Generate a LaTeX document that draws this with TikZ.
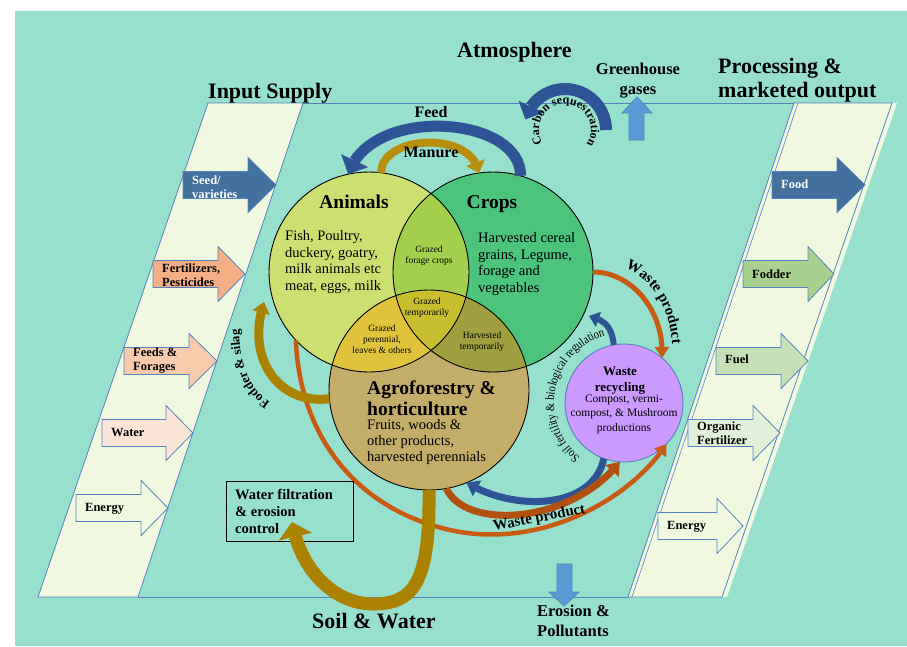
\documentclass[tikz,border=0pt]{standalone}
\usepackage{fontspec}
\setmainfont{Liberation Serif}
\newfontfamily\narrowserif[FakeStretch=0.85]{Liberation Serif}
\usetikzlibrary{arrows.meta,bending,decorations.text,calc}

\definecolor{bgteal}{RGB}{151,224,205}
\definecolor{cream}{RGB}{240,249,224}
\definecolor{edgeblue}{RGB}{84,130,190}
\definecolor{steelblue}{RGB}{65,113,156}
\definecolor{feedblue}{RGB}{47,84,150}
\definecolor{skyblue}{RGB}{91,155,213}
\definecolor{gold}{RGB}{170,130,0}
\definecolor{manuregold}{RGB}{184,142,12}
\definecolor{rust}{RGB}{200,90,17}
\definecolor{brownrust}{RGB}{178,80,15}
\definecolor{animalfill}{RGB}{203,224,112}
\definecolor{cropfill}{RGB}{76,196,124}
\definecolor{agrofill}{RGB}{196,173,104}
\definecolor{acfill}{RGB}{163,208,76}
\definecolor{aafill}{RGB}{226,196,60}
\definecolor{cafill}{RGB}{160,160,64}
\definecolor{allfill}{RGB}{200,190,45}
\definecolor{wastefill}{RGB}{204,153,255}
\definecolor{salmon}{RGB}{244,176,132}
\definecolor{peach}{RGB}{248,203,173}
\definecolor{blush}{RGB}{251,229,214}
\definecolor{sage}{RGB}{169,209,142}
\definecolor{mint}{RGB}{197,224,180}
\definecolor{pale}{RGB}{226,240,217}

% block arrow: style, left x, head x, tip x, centre y (y measured downwards)
\newcommand\blockarrow[5]{%
  \filldraw[#1] (#2,{-#5+13.5}) -- (#3,{-#5+13.5}) -- (#3,{-#5+27.5}) -- (#4,-#5)
    -- (#3,{-#5-27.5}) -- (#3,{-#5-13.5}) -- (#2,{-#5-13.5}) -- cycle;}

\begin{document}
\begin{tikzpicture}[x=1pt,y=1pt,
  title/.style={font=\bfseries\fontsize{22}{24}\selectfont, inner sep=0pt},
  sub/.style={font=\bfseries\fontsize{16.5}{20}\selectfont, inner sep=0pt},
  lbl/.style={font=\bfseries\fontsize{12.5}{14}\selectfont, inner sep=0pt, align=left},
  body/.style={font=\fontsize{14.5}{16.4}\selectfont, inner sep=0pt, align=left},
  small/.style={font=\fontsize{9.5}{11}\selectfont, inner sep=0pt, align=center},
  blockarr/.style={draw=edgeblue, line width=0.8pt},
  setcircle/.style={circle, minimum size=200pt, inner sep=0pt, outer sep=0pt},
  flowtip/.style 2 args={-{Triangle[width=#1,length=#2,line width=0pt]}},
]

\useasboundingbox (0,0) rectangle (907,-646);
\fill[white] (0,0) rectangle (907,-646);
\fill[bgteal] (15,-11) rectangle (907,-646);

% ---- input and output bands ----
\fill[cream] (633,-597) -- (727,-597) -- (897,-103) -- (799,-103) -- cycle;
\filldraw[fill=cream, draw=edgeblue, line width=0.8pt] (628,-597) -- (722,-597) -- (892,-103) -- (794,-103) -- cycle;
\draw[edgeblue, line width=0.6pt] (632,-597) -- (798,-103);
\filldraw[fill=cream, draw=edgeblue, line width=0.8pt] (38,-597) -- (138,-597) -- (303,-103) -- (208,-103) -- cycle;
\draw[edgeblue, line width=0.8pt] (303,-103) -- (794,-103);
\draw[edgeblue, line width=0.8pt] (138,-597) -- (628,-597);

% ---- the three system circles ----
\node[setcircle, fill=animalfill] (animals) at (369,-272) {};
\node[setcircle, fill=cropfill] (crops) at (493,-272) {};
\node[setcircle, fill=agrofill] (agro) at (429,-390) {};
\begin{scope}
  \clip (369,-272) circle[radius=100pt];
  \fill[acfill] (493,-272) circle[radius=100pt];
  \fill[aafill] (429,-390) circle[radius=100pt];
\end{scope}
\begin{scope}
  \clip (493,-272) circle[radius=100pt];
  \fill[cafill] (429,-390) circle[radius=100pt];
\end{scope}
\begin{scope}
  \clip (369,-272) circle[radius=100pt];
  \clip (493,-272) circle[radius=100pt];
  \fill[allfill] (429,-390) circle[radius=100pt];
\end{scope}
\draw[line width=0.9pt] (369,-272) circle[radius=100pt];
\draw[line width=0.9pt] (493,-272) circle[radius=100pt];
\draw[line width=0.9pt] (429,-390) circle[radius=100pt];

\node[circle, minimum size=118pt, inner sep=0pt, outer sep=0pt, fill=wastefill, draw=edgeblue, line width=0.9pt] (waste) at (624,-403) {};

% ---- flows between the circles ----
\draw[feedblue, line width=11pt, flowtip={30pt}{15pt}] (crops.74) .. controls (521,-115) and (370,-105) .. (animals.102);
\draw[manuregold, line width=8pt, flowtip={20pt}{11pt}] (animals.83) .. controls (381,-135) and (472,-130) .. (crops.98);

\coordinate (cseq) at (565,-130);
\draw[feedblue, line width=12pt, flowtip={28pt}{14pt}] (cseq) ++(0:41) arc[start angle=0, end angle=165, radius=41];
\path[decorate, decoration={text along path, text align=center,
  text={|\bfseries\fontsize{12}{12}\selectfont|Carbon sequestration}}]
  (cseq) ++(205:26) arc[start angle=205, end angle=-29, radius=26];

\filldraw[fill=skyblue, draw=edgeblue, line width=0.8pt] (629,-140) -- (629,-113) -- (622,-113) -- (637,-97) -- (652,-113) -- (644,-113) -- (644,-140) -- cycle;
\filldraw[fill=skyblue, draw=edgeblue, line width=0.8pt] (557,-564) -- (557,-592) -- (549,-592) -- (564,-606) -- (579,-592) -- (572,-592) -- (572,-564) -- cycle;

\draw[rust, line width=5pt, flowtip={15pt}{11pt}] (crops.east) .. controls +(40,0) and +(3,45) .. (waste.50);
\path[decorate, decoration={text along path, text align=center,
  text={|\bfseries\fontsize{15}{15}\selectfont|Waste product}}]
  (610,-265) .. controls (645,-266) and (676,-308) .. (672,-360);

\coordinate (sftip) at (589,-316);
\draw[feedblue, line width=6pt, flowtip={16pt}{10pt}] (waste.100) .. controls +(-2,20) and +(14,-4) .. (sftip);
\path[decorate, decoration={text along path, text align=center,
  text={|\narrowserif\fontsize{12.5}{12.5}\selectfont|Soil fertility {\&} biological regulation}}]
  (waste.center) ++(233:70) arc[start angle=233, end angle=104, radius=70];

\draw[feedblue, line width=7pt, flowtip={18pt}{12pt}] (waste.250) .. controls +(-10,-50) and +(50,-30) .. (agro.-68);
\draw[brownrust, line width=7pt, flowtip={18pt}{12pt}] (agro.-80) .. controls (465,-530) and (570,-525) .. (waste.266);
\draw[rust, line width=4.5pt, flowtip={15pt}{11pt}] (animals.223) .. controls (300,-440) and (360,-510) .. (450,-530)
  .. controls (540,-550) and (630,-500) .. (waste.-44);
\node[font=\bfseries\fontsize{15}{15}\selectfont, rotate=11, inner sep=0pt, anchor=base] (wastelow) at (540,-522) {Waste product};

\coordinate (fstip) at (264,-302);
\draw[gold, line width=9pt, flowtip={18pt}{11pt}] (agro.185) .. controls (280,-405) and (245,-360) .. (fstip);
\path[decorate, decoration={text along path, text align=center,
  text={|\bfseries\fontsize{13}{13}\selectfont|Fodder {\&} silag}}]
  (288,-409) .. controls (252,-402) and (235,-366) .. (240,-310);

\node[draw, line width=1.3pt, minimum width=127pt, minimum height=60pt, inner sep=0pt, anchor=north west] (filtbox) at (226,-481) {};
\node[font=\bfseries\fontsize{14.5}{17}\selectfont, align=left, anchor=west, inner sep=0pt] (filttext) at (235,-511) {Water filtration\\\& erosion\\control};

\coordinate (soiltip) at (292,-522);
\draw[gold, line width=13pt, flowtip={34pt}{15pt}] (agro.-90) .. controls (430,-580) and (415,-603) .. (375,-604)
  .. controls (335,-605) and (300,-570) .. (soiltip);

% ---- inputs ----
\blockarrow{blockarr, fill=steelblue}{183}{248}{276}{185}
\blockarrow{blockarr, fill=salmon}{153}{218}{245}{274}
\blockarrow{blockarr, fill=peach}{124}{189}{217}{361}
\blockarrow{blockarr, fill=blush}{102}{166}{193}{433}
\blockarrow{blockarr, fill=cream}{76}{141}{168}{508}
\node[lbl, text=white, anchor=west] (seed) at (192,-187) {Seed/\\varieties};
\node[lbl, anchor=west] (fert) at (162,-275) {Fertilizers,\\Pesticides};
\node[lbl, anchor=west] (feeds) at (133,-361) {Feeds \&\\Forages};
\node[lbl, anchor=base west] (water) at (111,-436) {Water};
\node[lbl, anchor=base west] (energyin) at (85,-511) {Energy};

% ---- outputs ----
\blockarrow{blockarr, fill=steelblue}{772}{837}{865}{185}
\blockarrow{blockarr, fill=sage}{743}{808}{834}{274}
\blockarrow{blockarr, fill=mint}{716}{781}{808}{361}
\blockarrow{blockarr, fill=pale}{688}{753}{780}{433}
\blockarrow{blockarr, fill=cream}{658}{717}{743}{526}
\node[lbl, text=white, anchor=base west] (food) at (781,-188) {Food};
\node[lbl, anchor=base west] (fodder) at (752,-278) {Fodder};
\node[lbl, anchor=base west] (fuel) at (725,-363) {Fuel};
\node[lbl, anchor=west] (orgfert) at (697,-433) {Organic\\Fertilizer};
\node[lbl, anchor=base west] (energyout) at (667,-529) {Energy};

% ---- headings ----
\node[title, anchor=base west] (inputs) at (208,-98) {Input Supply};
\node[title, anchor=base west] (atmos) at (457,-57) {Atmosphere};
\node[sub, align=center] (ghg) at (638,-81) {Greenhouse\\gases};
\node[title, align=left, anchor=west] (proc) at (718,-80) {Processing \&\\marketed output};
\node[title, anchor=base west] (soilwater) at (312,-628) {Soil \& Water};
\node[sub, align=left, anchor=west] (erosion) at (537,-621) {Erosion \&\\Pollutants};
\node[font=\bfseries\fontsize{16}{16}\selectfont, anchor=base, inner sep=0pt] (feedlbl) at (431,-117) {Feed};
\node[font=\bfseries\fontsize{16}{16}\selectfont, anchor=base, inner sep=0pt] (manurelbl) at (431,-157) {Manure};

% ---- circle texts ----
\node[font=\bfseries\fontsize{19.5}{20}\selectfont, anchor=base, inner sep=0pt] (animalstitle) at (354,-208) {Animals};
\node[font=\bfseries\fontsize{19.5}{20}\selectfont, anchor=base, inner sep=0pt] (cropstitle) at (492,-208) {Crops};
\node[font=\bfseries\fontsize{19.5}{21}\selectfont, align=left, anchor=west, inner sep=0pt] (agrotitle) at (367,-398) {Agroforestry \&\\horticulture};
\node[body, anchor=west] (animalsbody) at (285,-262) {Fish, Poultry,\\duckery, goatry,\\milk animals etc\\meat, eggs, milk};
\node[body, anchor=west] (cropsbody) at (478,-264) {Harvested cereal\\grains, Legume,\\forage and\\vegetables};
\node[body, anchor=west] (agrobody) at (367,-442) {Fruits, woods \&\\other products,\\harvested perennials};
\node[small] (ac) at (429,-256) {Grazed\\forage crops};
\node[small] (acg) at (427,-308) {Grazed\\temporarily};
\node[small] (aa) at (382,-339) {Grazed\\perennial,\\leaves \& others};
\node[small] (ca) at (482,-342) {Harvested\\temporarily};
\node[font=\bfseries\fontsize{13}{16}\selectfont, align=center, inner sep=0pt] (wastetitle) at (620,-381) {Waste\\recycling};
\node[font=\fontsize{11.5}{14.5}\selectfont, align=center, inner sep=0pt] (wastebody) at (624,-414) {Compost, vermi-\\compost, \& Mushroom\\productions};

\end{tikzpicture}
\end{document}
